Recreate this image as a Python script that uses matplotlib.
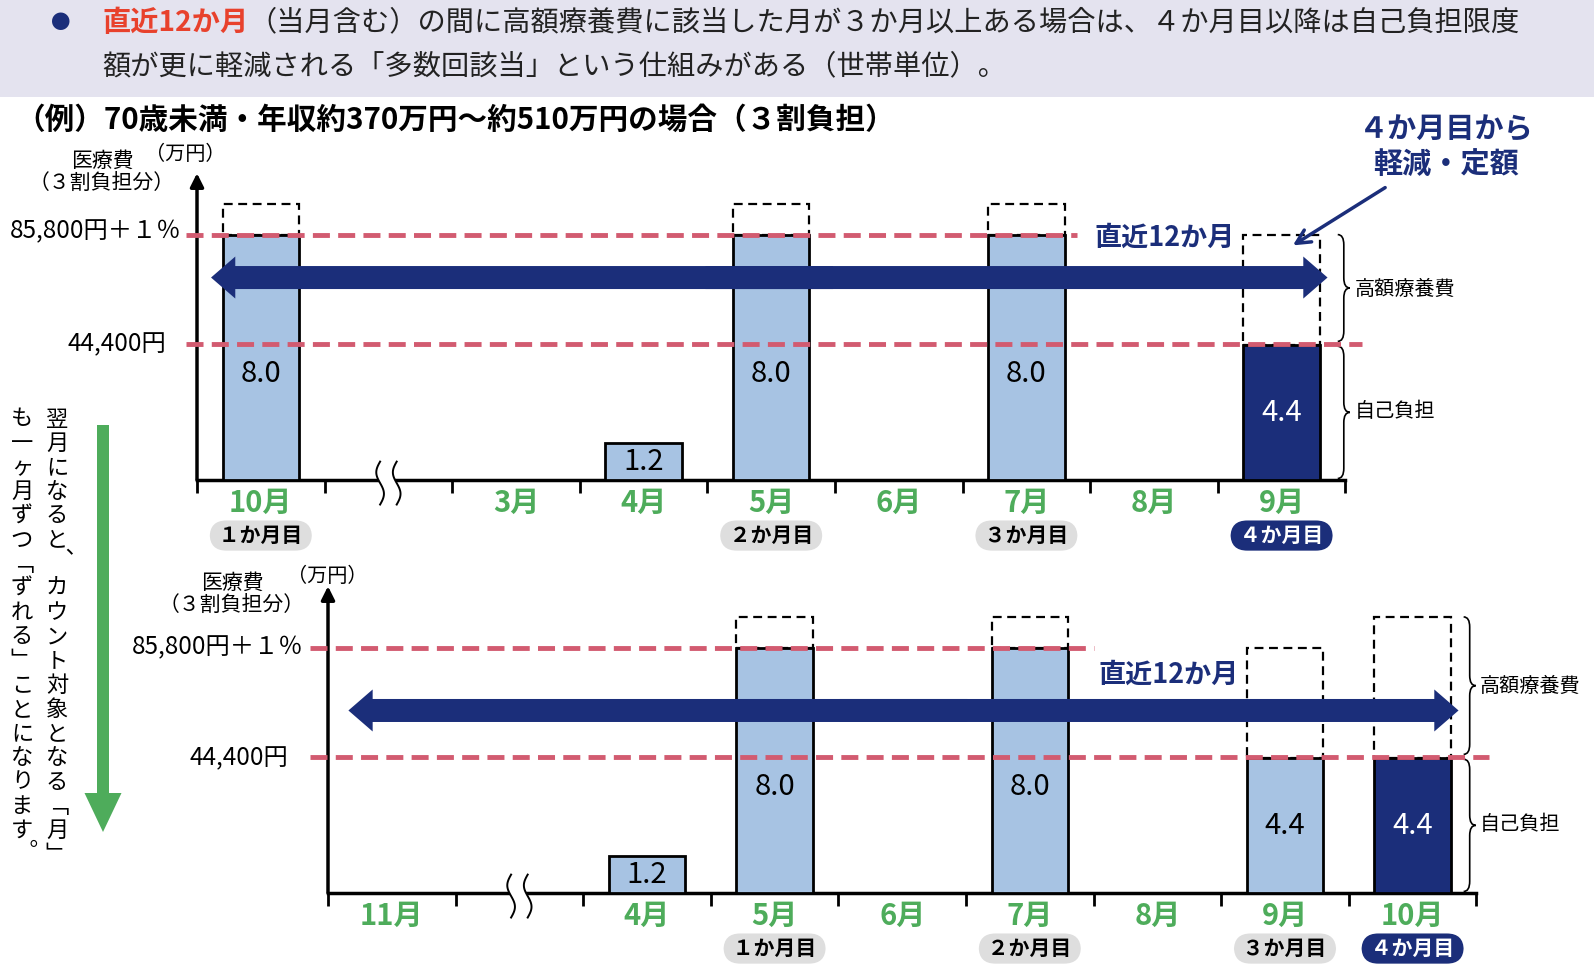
import numpy as np
import matplotlib
matplotlib.use('Agg')
import matplotlib.pyplot as plt
from matplotlib.patches import FancyArrow, Rectangle, PathPatch
from matplotlib.path import Path

plt.rcParams['font.family'] = ['Noto Sans CJK JP', 'DejaVu Sans']

W, H = 1594, 967

NAVY = '#1b2e7a'
LIGHT = '#a7c3e3'
RED = '#d25b70'
GREEN = '#4eac5b'
GRAY = '#dedede'
BANNER = '#e4e3ef'

# values in 万円 (self-pay = 自己負担, total = top of dashed 高額療養費 box)
top_months = ['10月', '', '3月', '4月', '5月', '6月', '7月', '8月', '9月']
top_pay = [8.0, 0, 0, 1.2, 8.0, 0, 8.0, 0, 4.4]
top_total = [9.0, 0, 0, 0, 9.0, 0, 9.0, 0, 8.0]
top_badge = ['１か月目', '', '', '', '２か月目', '', '３か月目', '', '４か月目']

bot_months = ['11月', '', '4月', '5月', '6月', '7月', '8月', '9月', '10月']
bot_pay = [0, 0, 1.2, 8.0, 0, 8.0, 0, 4.4, 4.4]
bot_total = [0, 0, 0, 9.0, 0, 9.0, 0, 8.0, 9.0]
bot_badge = ['', '', '', '１か月目', '', '２か月目', '', '３か月目', '４か月目']

REDUCED = 8          # month where 多数回該当 applies
LIMIT_HIGH = 8.0     # 85,800円＋１％ line
LIMIT_LOW = 4.44     # 44,400円 line
limit_labels = ['85,800円＋１％', '44,400円']

PER_PX = 4.44 / 136.2   # 万円 per pixel
SLOT = 127.6
YTOP = 10.0

fig = plt.figure(figsize=(W / 100, H / 100), dpi=100)


def px_axes(x0, y0, x1, y1):
    return fig.add_axes([x0 / W, 1 - y1 / H, (x1 - x0) / W, (y1 - y0) / H])


def brace(ax, x, y0, y1, w=0.095, r=0.33):
    m = (y0 + y1) / 2
    h = x + w / 2
    verts = [(x, y1), (h, y1), (h, y1 - r), (h, m + r), (h, m), (x + w, m),
             (h, m), (h, m - r), (h, y0 + r), (h, y0), (x, y0)]
    codes = [Path.MOVETO, Path.CURVE3, Path.CURVE3, Path.LINETO, Path.CURVE3, Path.CURVE3,
             Path.CURVE3, Path.CURVE3, Path.LINETO, Path.CURVE3, Path.CURVE3]
    ax.add_patch(PathPatch(Path(verts, codes), fill=False, lw=1.2, ec='k', clip_on=False))


def draw_chart(ax, months, pay, total, badges, line_x0, high_x1, low_x1,
               arrow_x0, arrow_y, span_xy, brace_x):
    n = len(months)
    x = np.arange(n)
    ax.set_xlim(-0.5, n - 0.5)
    ax.set_ylim(0, YTOP)
    ax.patch.set_alpha(0)
    for s in ['top', 'right', 'left']:
        ax.spines[s].set_visible(False)
    ax.spines['bottom'].set_linewidth(2.5)
    ax.set_yticks([])
    ax.set_xticks(x, months)
    ax.set_xticks(np.arange(n + 1) - 0.5, minor=True)
    ax.tick_params(axis='x', which='major', length=0, pad=6, labelsize=21, labelcolor=GREEN)
    ax.tick_params(axis='x', which='minor', length=9, width=2, direction='out')
    for t in ax.get_xticklabels():
        t.set_fontweight('bold')
    ax.annotate('', xy=(-0.5, YTOP), xytext=(-0.5, 0),
                arrowprops=dict(arrowstyle='-|>', lw=2.5, color='k', mutation_scale=20,
                                shrinkA=0, shrinkB=0), annotation_clip=False)

    # dashed 高額療養費 boxes and self-pay bars
    boxed = [i for i in x if total[i] > 0]
    ax.bar(boxed, [total[i] - pay[i] for i in boxed], 0.6, bottom=[pay[i] for i in boxed],
           fill=False, ec='k', lw=1.6, ls=(0, (4, 2.5)), zorder=2)
    paid = [i for i in x if pay[i] > 0]
    ax.bar(paid, [pay[i] for i in paid], 0.6,
           color=[NAVY if i == REDUCED else LIGHT for i in paid], ec='k', lw=2, zorder=3)
    for i in paid:
        v = pay[i]
        ty = v / 2 if v < LIMIT_LOW else LIMIT_LOW - 1.0
        ax.text(i, ty, f'{v:.1f}', ha='center', va='center', fontsize=21,
                color='white' if i == REDUCED else 'k', zorder=6)

    # limit lines
    dash = dict(color=RED, lw=3.5, ls=(0, (3.5, 1.7)), zorder=4, clip_on=False)
    ax.plot([line_x0, high_x1], [LIMIT_HIGH] * 2, **dash)
    ax.plot([line_x0, low_x1], [LIMIT_LOW] * 2, **dash)

    # 直近12か月 double arrow (two halves overlapping in the middle)
    arrow_x1 = n - 1 + 0.36
    mid = (arrow_x0 + arrow_x1) / 2
    for end, start in ((arrow_x0, mid + 0.5), (arrow_x1, mid - 0.5)):
        ax.add_patch(FancyArrow(start, arrow_y, end - start, 0, width=0.75, head_width=1.37,
                                head_length=0.19, length_includes_head=True, color=NAVY,
                                lw=0, zorder=5, clip_on=False))
    ax.text(span_xy[0], span_xy[1], '直近12か月', ha='center', va='center', fontsize=19.5,
            fontweight='bold', color=NAVY, zorder=6)

    # axis break
    yy = np.linspace(-0.8, 0.6, 40)
    wave = 0.03 * np.sin((yy + 0.8) / 1.4 * 2 * np.pi)
    ax.fill_betweenx(yy, 0.935 + wave, 1.065 + wave, color='white', lw=0, zorder=4, clip_on=False)
    for off in (-0.065, 0.065):
        ax.plot(1 + off + wave, yy, color='k', lw=1.4, zorder=5, clip_on=False)

    # month badges
    for i, b in enumerate(badges):
        if b:
            hi = i == REDUCED
            ax.annotate(' ' + b + ' ', xy=(i, 0), xytext=(0, -40), textcoords='offset points',
                        ha='center', va='center', fontsize=15, fontweight='bold',
                        color='white' if hi else 'k', annotation_clip=False,
                        bbox=dict(boxstyle='round,pad=0.22,rounding_size=0.8',
                                  fc=NAVY if hi else GRAY, ec='none'))

    # braces on the right
    top = total[REDUCED]
    brace(ax, brace_x, LIMIT_LOW + 0.08, top)
    brace(ax, brace_x, 0.05, LIMIT_LOW - 0.08)
    ax.text(brace_x + 0.13, (LIMIT_LOW + top) / 2, '高額療養費', ha='left', va='center', fontsize=14.5)
    ax.text(brace_x + 0.13, LIMIT_LOW / 2, '自己負担', ha='left', va='center', fontsize=14.5)


ax_top = px_axes(197, 480 - YTOP / PER_PX, 197 + 9 * SLOT, 480)
ax_bot = px_axes(328, 893 - YTOP / PER_PX, 328 + 9 * SLOT, 893)

draw_chart(ax_top, top_months, top_pay, top_total, top_badge,
           line_x0=-0.59, high_x1=6.4, low_x1=8.63,
           arrow_x0=-0.39, arrow_y=6.6, span_xy=(7.08, 7.89), brace_x=8.44)
draw_chart(ax_bot, bot_months, bot_pay, bot_total, bot_badge,
           line_x0=-0.64, high_x1=5.5, low_x1=8.6,
           arrow_x0=-0.34, arrow_y=5.95, span_xy=(6.09, 7.1), brace_x=8.4)

ax_top.annotate('', xy=(8.07, 7.6), xytext=(8.83, 9.58),
                arrowprops=dict(arrowstyle='->', color=NAVY, lw=2.5, mutation_scale=25),
                annotation_clip=False)

# overlay in pixel coordinates for headings and notes
ov = fig.add_axes([0, 0, 1, 1])
ov.set_xlim(0, W)
ov.set_ylim(H, 0)
ov.axis('off')
ov.patch.set_alpha(0)

ov.add_patch(Rectangle((0, 0), W, 97, fc=BANNER, ec='none'))
ov.text(61, 23, '●', color=NAVY, fontsize=14, ha='center', va='center')
t1 = ov.text(102, 23, '直近12か月', color='#e8412c', fontsize=20.3, fontweight='bold', va='center')
ov.annotate('（当月含む）の間に高額療養費に該当した月が３か月以上ある場合は、４か月目以降は自己負担限度',
            xy=(1, 0), xycoords=t1, va='bottom', fontsize=20.3, color='#222222')
ov.text(102, 66, '額が更に軽減される「多数回該当」という仕組みがある（世帯単位）。',
        fontsize=20.3, va='center', color='#222222')

ov.text(15, 120, '（例）70歳未満・年収約370万円～約510万円の場合（３割負担）',
        fontsize=21.3, fontweight='bold', va='center')

ov.text(1446, 129, '４か月目から', fontsize=21, fontweight='bold', color=NAVY, ha='center', va='center')
ov.text(1446, 164, '軽減・定額', fontsize=21, fontweight='bold', color=NAVY, ha='center', va='center')

# axis captions and limit labels
for cx, cy, kx, ky, lx, ly_hi, ly_lo, lx_lo in [(102, 161, 185, 155, 181, 231, 344, 166),
                                              (232, 583, 327, 577, 303, 647, 758, 288)]:
    ov.text(cx, cy, '医療費', fontsize=15, ha='center', va='center')
    ov.text(cx, cy + 22, '（３割負担分）', fontsize=15, ha='center', va='center')
    ov.text(kx, ky, '（万円）', fontsize=14.5, ha='center', va='center')
    ov.text(lx, ly_hi, limit_labels[0], fontsize=17.5, ha='right', va='center')
    ov.text(lx_lo, ly_lo, limit_labels[1], fontsize=17.5, ha='right', va='center')

# vertical note on the left
col1 = '翌月になると︑カウント対象となる﹁月﹂'
col2 = 'も一ヶ月ずつ﹁ずれる﹂ことになります︒'
for cx, col in [(57, col1), (22, col2)]:
    for k, ch in enumerate(col):
        dx, dy = (5, -3) if ch in '︑︒' else (0, 0)
        ov.text(cx + dx, 419 + k * 24.2 + dy, ch, fontsize=16, ha='center', va='center')
ov.add_patch(FancyArrow(103, 425, 0, 407, width=12, head_width=37, head_length=39,
                        length_includes_head=True, color=GREEN, lw=0))

fig.savefig('out.png', dpi=100)
